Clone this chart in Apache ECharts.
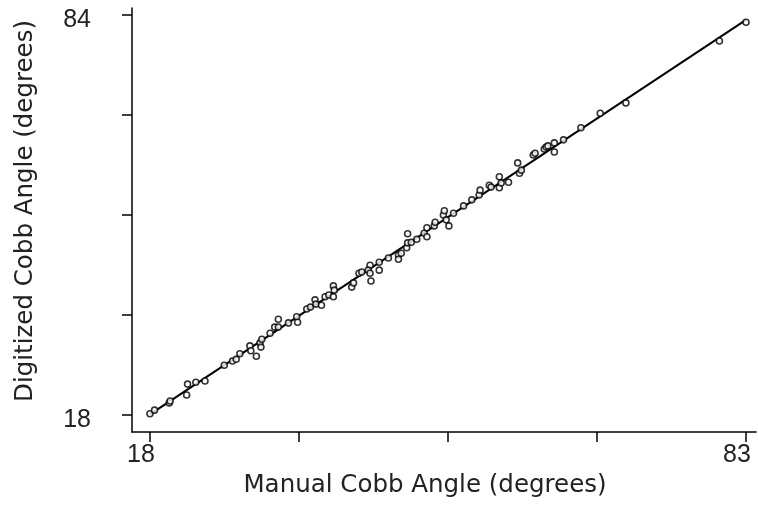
<!DOCTYPE html>
<html>
<head>
<meta charset="utf-8">
<script src="https://cdn.jsdelivr.net/npm/echarts@6/dist/echarts.min.js"></script>
<style>html,body{margin:0;padding:0;background:#fff}#c{width:758px;height:510px}</style>
</head>
<body>
<div id="c"></div>
<script>
var manual = [18.0,18.5,20.1,20.2,22.0,22.1,23.0,24.0,26.1,27.0,27.4,27.8,28.9,29.0,29.6,30.0,30.2,30.1,31.1,31.6,32.0,32.0,33.1,34.0,34.1,35.1,35.5,36.0,36.1,36.7,37.1,37.5,38.0,38.1,38.0,40.0,40.2,40.8,41.1,42.0,41.8,42.1,42.0,43.0,43.0,44.0,45.1,45.1,45.4,46.0,46.1,46.1,46.5,47.1,47.9,48.2,48.2,49.0,49.1,50.0,50.1,50.3,50.6,51.1,52.2,53.1,53.9,54.0,55.0,55.2,56.1,56.1,56.3,57.1,58.1,58.3,58.5,59.8,60.0,61.0,61.2,61.4,62.1,62.1,63.1,65.0,67.1,69.9,80.1,83.0];
var digitized = [18.2,18.8,20.0,20.3,21.3,23.1,23.4,23.6,26.2,26.9,27.2,28.1,29.4,28.6,27.7,29.9,30.5,29.2,31.5,32.5,33.8,32.5,33.2,34.2,33.3,35.5,35.8,37.0,36.3,36.1,37.5,37.8,39.3,38.6,37.5,39.1,39.8,41.4,41.6,42.7,41.9,40.1,41.4,43.2,41.9,43.9,44.4,43.7,44.7,45.6,46.4,47.9,46.5,47.0,48.0,48.9,47.4,49.2,49.8,51.0,51.7,50.2,49.2,51.3,52.5,53.5,54.3,55.1,55.9,55.6,57.3,55.5,56.3,56.4,59.6,57.9,58.4,60.9,61.2,61.9,62.2,62.4,61.4,62.9,63.4,65.4,67.8,69.5,79.7,82.8];
var fitX = [18, 83];
var fitY = [18.1, 83.2];
var xTicks = [18, 34.25, 50.5, 66.75, 83];
var yTicks = [18, 34.5, 51, 67.5, 84];
var xLabels = [18, 83];
var yLabels = [18, 84];

var pts = manual.map(function(v,i){return [v, digitized[i]];});
var fit = fitX.map(function(v,i){return [v, fitY[i]];});

var chart = echarts.init(document.getElementById('c'));
var numFont = '"Liberation Sans", Arial, sans-serif';
var titleFont = '"DejaVu Sans", sans-serif';
chart.setOption({
  animation:false,
  backgroundColor:'#fff',
  grid:{left:132,right:2,top:8,bottom:78,containLabel:false},
  xAxis:{
    type:'value', min:16.04, max:84.09,
    splitLine:{show:false},
    axisLine:{show:true,lineStyle:{color:'#000',width:1.5}},
    axisTick:{show:true,length:10,customValues:xTicks,lineStyle:{color:'#000',width:1.5}},
    axisLabel:{customValues:xLabels,color:'#222',fontSize:25,fontFamily:numFont,margin:11,padding:[0,18,0,0]},
    name:'Manual Cobb Angle (degrees)', nameLocation:'middle', nameGap:41,
    nameTextStyle:{color:'#222',fontSize:24.5,fontFamily:titleFont,padding:[0,38,0,0]}
  },
  yAxis:{
    type:'value', min:15.195, max:85.155,
    splitLine:{show:false},
    axisLine:{show:true,lineStyle:{color:'#000',width:1.5}},
    axisTick:{show:true,length:10,customValues:yTicks,lineStyle:{color:'#000',width:1.5}},
    axisLabel:{customValues:yLabels,color:'#222',fontSize:25,fontFamily:numFont,margin:41,verticalAlign:'top',lineHeight:10},
    name:'Digitized Cobb Angle (degrees)', nameLocation:'middle', nameGap:94,
    nameTextStyle:{color:'#222',fontSize:24.5,fontFamily:titleFont,padding:[0,0,0,18]}
  },
  series:[
    {type:'line',data:fit,symbol:'none',lineStyle:{color:'#000',width:2},z:2},
    {type:'scatter',data:pts,symbol:'circle',symbolSize:6,
     itemStyle:{color:'#fff',borderColor:'#000',borderWidth:1.6},z:3}
  ]
});
</script>
</body>
</html>
